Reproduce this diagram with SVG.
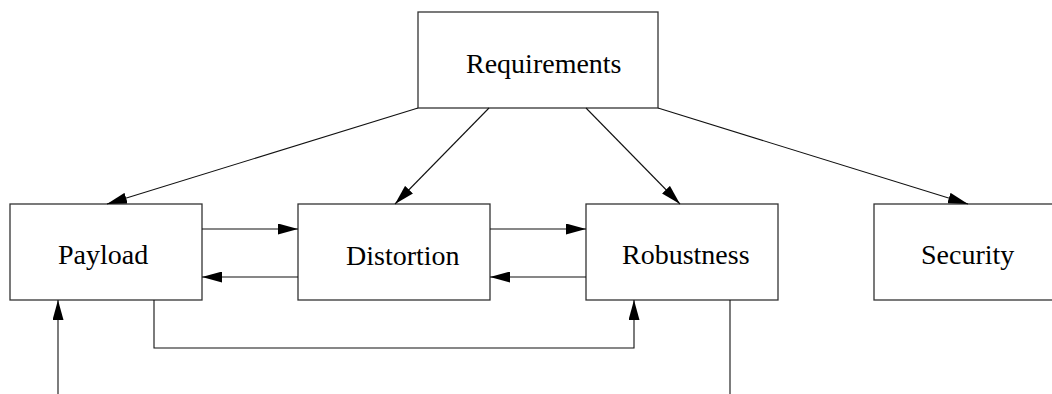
<svg xmlns="http://www.w3.org/2000/svg" width="1052" height="394" viewBox="0 0 1052 394">
  <style>
    .box { fill: #fff; stroke: #333; stroke-width: 1.3; }
    .lbl { font-family: "Liberation Serif", "Times New Roman", serif; font-size: 28px; fill: #000; }
    .wire { fill: none; stroke: #111; stroke-width: 1.1; }
  </style>
  <defs>
    <marker id="head" markerUnits="userSpaceOnUse" viewBox="0 0 20 11" refX="20" refY="5.5" markerWidth="20" markerHeight="11" orient="auto">
      <path d="M0,0 L20,5.5 L0,11 Z" fill="#000"/>
    </marker>
  </defs>
  <rect width="1052" height="394" fill="#fff"/>

  <g id="requirements">
    <rect class="box" x="418" y="12" width="240" height="96"/>
    <text class="lbl" x="466" y="73">Requirements</text>
  </g>
  <g id="payload">
    <rect class="box" x="10" y="204" width="192" height="96"/>
    <text class="lbl" x="58" y="264">Payload</text>
  </g>
  <g id="distortion">
    <rect class="box" x="298" y="204" width="192" height="96"/>
    <text class="lbl" x="346" y="265">Distortion</text>
  </g>
  <g id="robustness">
    <rect class="box" x="586" y="204" width="192" height="96"/>
    <text class="lbl" x="622" y="264">Robustness</text>
  </g>
  <g id="security">
    <rect class="box" x="874" y="204" width="192" height="96"/>
    <text class="lbl" x="921" y="264">Security</text>
  </g>

  <g id="connectors">
    <line class="wire" x1="418" y1="108" x2="107" y2="204" marker-end="url(#head)"/>
    <line class="wire" x1="489" y1="108" x2="395" y2="204" marker-end="url(#head)"/>
    <line class="wire" x1="586" y1="108" x2="680" y2="204" marker-end="url(#head)"/>
    <line class="wire" x1="658" y1="108" x2="968" y2="204" marker-end="url(#head)"/>

    <line class="wire" x1="202" y1="229" x2="298" y2="229" marker-end="url(#head)"/>
    <line class="wire" x1="298" y1="277" x2="202" y2="277" marker-end="url(#head)"/>
    <line class="wire" x1="490" y1="229" x2="586" y2="229" marker-end="url(#head)"/>
    <line class="wire" x1="586" y1="277" x2="490" y2="277" marker-end="url(#head)"/>

    <polyline class="wire" points="154,300 154,348 634,348 634,300" marker-end="url(#head)"/>
    <line class="wire" x1="58" y1="394" x2="58" y2="300" marker-end="url(#head)"/>
    <line class="wire" x1="730" y1="300" x2="730" y2="394"/>
  </g>
</svg>
